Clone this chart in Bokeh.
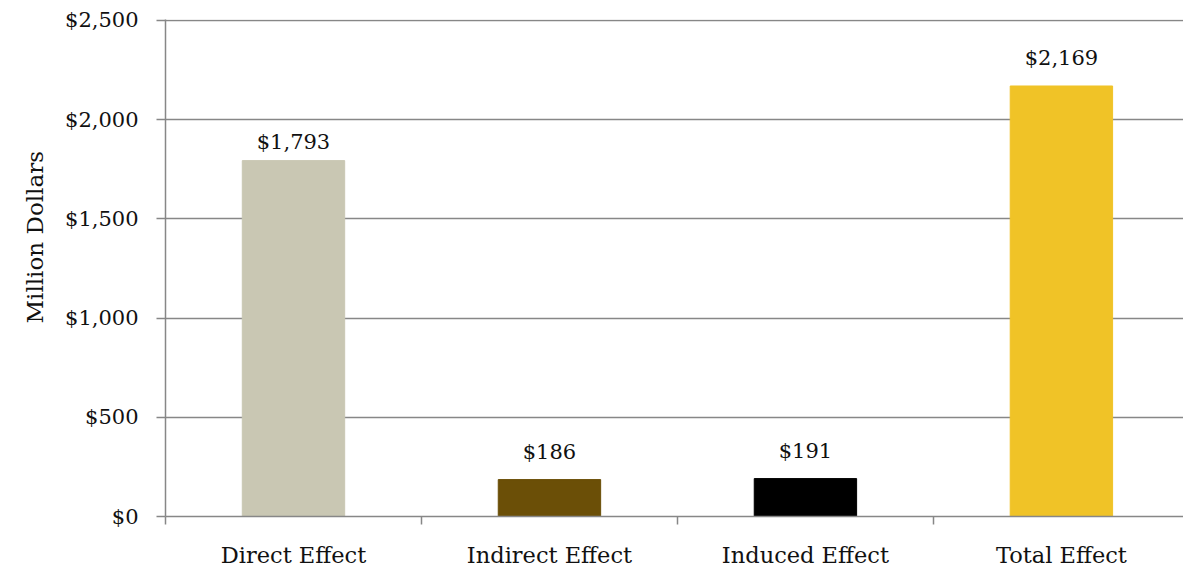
from bokeh.plotting import figure
from bokeh.models import ColumnDataSource, FixedTicker, NumeralTickFormatter, Range1d, LabelSet, Title
from bokeh.core.properties import value
from bokeh.embed import file_html
from bokeh.resources import INLINE

categories = ["Direct Effect", "Indirect Effect", "Induced Effect", "Total Effect"]
values = [1793, 186, 191, 2169]
colors = ["#C9C7B3", "#6B4F07", "#000000", "#F0C327"]
value_labels = ["$1,793", "$186", "$191", "$2,169"]
y_ticks = [0, 500, 1000, 1500, 2000, 2500]

# label placement (style, pixels above bar)
label_offsets = [7, 16, 16, 16]

FONT = "DejaVu Serif"
GRID = "#878787"
TXT = "#111111"

xs = list(range(1, len(categories) + 1))
src = ColumnDataSource(dict(x=xs, top=values, color=colors, lab=value_labels, yoff=label_offsets))

p = figure(width=1183, height=571, output_backend="svg", toolbar_location=None,
           x_range=Range1d(0.5, 4.477), y_range=Range1d(0, 2504),
           min_border_left=165, min_border_right=0, min_border_top=19, min_border_bottom=55)
p.outline_line_color = None
p.background_fill_color = "white"

p.vbar(x="x", top="top", width=0.4, color="color", source=src)
labels = LabelSet(x="x", y="top", text="lab", source=src, text_align="center",
                  text_baseline="bottom", y_offset="yoff", text_font=value(FONT),
                  text_font_size="21px", text_color=TXT)
p.add_layout(labels)

# x axis
p.xaxis.ticker = FixedTicker(ticks=xs, minor_ticks=[0.5, 1.5, 2.5, 3.5, 4.5])
p.xaxis.major_label_overrides = {i + 1: c for i, c in enumerate(categories)}
p.xaxis.major_tick_out = 0
p.xaxis.major_tick_in = 0
p.xaxis.minor_tick_out = 8
p.xaxis.minor_tick_in = 0
p.xaxis.minor_tick_line_color = GRID
p.xaxis.axis_line_color = GRID
p.xaxis.axis_line_width = 1.5
p.xaxis.minor_tick_line_width = 1.5
p.xaxis.major_label_standoff = 17
p.xaxis.major_label_text_font = FONT
p.xaxis.major_label_text_font_size = "22.5px"
p.xaxis.major_label_text_color = TXT
p.xgrid.grid_line_color = None

# y axis
p.yaxis.ticker = FixedTicker(ticks=y_ticks, minor_ticks=[])
p.yaxis.formatter = NumeralTickFormatter(format="$0,0")
p.yaxis.major_tick_out = 9
p.yaxis.major_tick_in = 0
p.yaxis.major_tick_line_color = GRID
p.yaxis.major_tick_line_width = 1.5
p.yaxis.axis_line_color = GRID
p.yaxis.axis_line_width = 1.5
p.yaxis.major_label_standoff = 18
p.yaxis.major_label_text_font = FONT
p.yaxis.major_label_text_font_size = "21px"
p.yaxis.major_label_text_color = TXT
p.ygrid.grid_line_color = GRID
p.ygrid.grid_line_width = 1.5
p.ygrid.ticker = FixedTicker(ticks=y_ticks)

ytitle = Title(text="Million Dollars", align="left", offset=193, standoff=30,
               text_font=FONT, text_font_size="23px", text_font_style="normal",
               text_color=TXT)
p.add_layout(ytitle, "left")

open("out.html", "w").write(file_html(p, INLINE))
